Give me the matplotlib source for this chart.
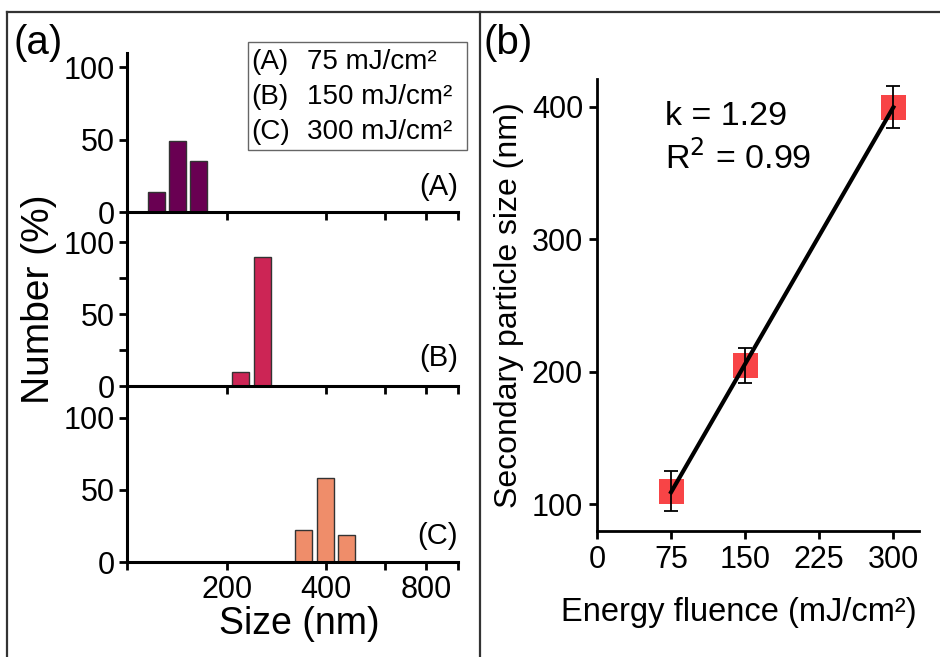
import numpy as np
import matplotlib.pyplot as plt
from matplotlib.patches import Rectangle
from matplotlib.lines import Line2D
from matplotlib.ticker import NullLocator

plt.rcParams['font.family'] = ['Liberation Sans', 'DejaVu Sans']

# ---- data: size distributions (panel a) ----
panel_names = ['(A)', '(B)', '(C)']
fluence = [75, 150, 300]  # mJ/cm2
size_A = [123, 142, 164]
number_A = [14, 49, 35]
size_B = [220, 256]
number_B = [10, 90]
size_C = [342, 397, 460]
number_C = [22, 58, 19]
bar_colors = ['#690052', '#cc2555', '#ef8d6a']
size_ticks = [100, 200, 400, 600, 800, 1000]
size_ticklabels = ['', '200', '400', '', '800', '']

# ---- data: secondary particle size vs fluence (panel b) ----
fluence_pts = [75, 150, 300]
sec_size = [110, 205, 400]
sec_err = [15, 13, 16]

W, H = 940, 657


def fx(px):
    return px / W


def fy(py):
    return 1 - py / H


fig = plt.figure(figsize=(9.4, 6.57), dpi=100)

# frame around the two panels
frame_kw = dict(color='#333333', lw=1.6, transform=fig.transFigure)
fig.add_artist(Line2D([fx(7), 1], [fy(12), fy(12)], **frame_kw))
fig.add_artist(Line2D([fx(7), fx(7)], [fy(12), 0], **frame_kw))
fig.add_artist(Line2D([fx(480), fx(480)], [fy(12), 0], **frame_kw))

# ---- panel (a): three stacked histograms ----
boxes = [(53, 212), (212, 386), (386, 562)]
ytops = [110, 121, 122]
sizes = [size_A, size_B, size_C]
numbers = [number_A, number_B, number_C]
label_y = [0.16, 0.16, 0.145]
half = 10 ** 0.0257  # half bar width in log units

for i in range(3):
    top, bot = boxes[i]
    ax = fig.add_axes([fx(127), fy(bot), fx(458) - fx(127), (bot - top) / H])
    ax.set_xscale('log')
    c = np.array(sizes[i], dtype=float)
    ax.bar(c / half, numbers[i], width=c * half - c / half, align='edge',
           color=bar_colors[i], edgecolor='#333333', linewidth=1)
    ax.set_xlim(100, 1000)
    ax.set_ylim(0, ytops[i])
    ax.set_yticks([0, 50, 100])
    if i == 1:
        ax.set_yticks([25, 75], minor=True)
    else:
        ax.yaxis.set_minor_locator(NullLocator())
    ax.set_xticks(size_ticks)
    ax.xaxis.set_minor_locator(NullLocator())
    if i == 2:
        ax.set_xticklabels(size_ticklabels)
    else:
        ax.set_xticklabels([''] * len(size_ticks))
    for s in ['top', 'right']:
        ax.spines[s].set_visible(False)
    for s in ['left', 'bottom']:
        ax.spines[s].set_linewidth(2.2)
    ax.patch.set_alpha(0)
    ax.tick_params(which='both', width=2, length=6, labelsize=22, pad=3)
    ax.text(1.0, label_y[i], panel_names[i], transform=ax.transAxes,
            ha='right', va='center', fontsize=21)
    if i == 2:
        ax.set_xlabel('Size (nm)', fontsize=27, labelpad=1)
        ax.xaxis.label.set_x(0.52)

fig.text(fx(39), fy(299), 'Number (%)', rotation=90, ha='center',
         va='center', fontsize=28)

# legend box for panel (a)
fig.add_artist(Rectangle((fx(248), fy(150)), fx(467) - fx(248), (150 - 42) / H,
                         fill=False, ec='#666666', lw=1, transform=fig.transFigure))
for i in range(3):
    fig.text(fx(251), fy(62 + 35 * i), panel_names[i], va='center', fontsize=20)
    fig.text(fx(307), fy(62 + 35 * i), '%d mJ/cm²' % fluence[i], va='center',
             fontsize=20)

fig.text(fx(14), fy(43), '(a)', va='center', ha='left', fontsize=29)
fig.text(fx(484), fy(43), '(b)', va='center', ha='left', fontsize=29)

# ---- panel (b): secondary particle size vs fluence ----
ax2 = fig.add_axes([fx(597), fy(531), fx(919) - fx(597), (531 - 79) / H])
ax2.plot(fluence_pts, sec_size, 's', color='#f83a3c', markersize=18,
         markeredgewidth=0, alpha=0.95, zorder=2)
ax2.errorbar(fluence_pts, sec_size, yerr=sec_err, fmt='none', ecolor='black',
             elinewidth=1.3, capsize=5, capthick=1.3, zorder=3)
k, b = np.polyfit(fluence_pts, sec_size, 1)
xf = np.array([fluence_pts[0], fluence_pts[-1]])
ax2.plot(xf, k * xf + b, color='black', lw=3, zorder=4)
ax2.set_xlim(0, 326)
ax2.set_ylim(80, 421)
ax2.set_xticks([0, 75, 150, 225, 300])
ax2.set_yticks([100, 200, 300, 400])
for s in ['top', 'right']:
    ax2.spines[s].set_visible(False)
for s in ['left', 'bottom']:
    ax2.spines[s].set_linewidth(2)
ax2.tick_params(width=2, length=6, labelsize=22, pad=4)
ax2.set_xlabel('Energy fluence (mJ/cm²)', fontsize=23.5)
ax2.xaxis.set_label_coords(0.44, -0.145)
ax2.set_ylabel('Secondary particle size (nm)', fontsize=23, labelpad=6)
ax2.text(0.212, 0.898, 'k = %.2f' % k, transform=ax2.transAxes, ha='left',
         va='baseline', fontsize=24.5)
ax2.text(0.212, 0.803, r'R$^2$ = 0.99', transform=ax2.transAxes, ha='left',
         va='baseline', fontsize=24.5)

plt.savefig('out.png', dpi=100)
